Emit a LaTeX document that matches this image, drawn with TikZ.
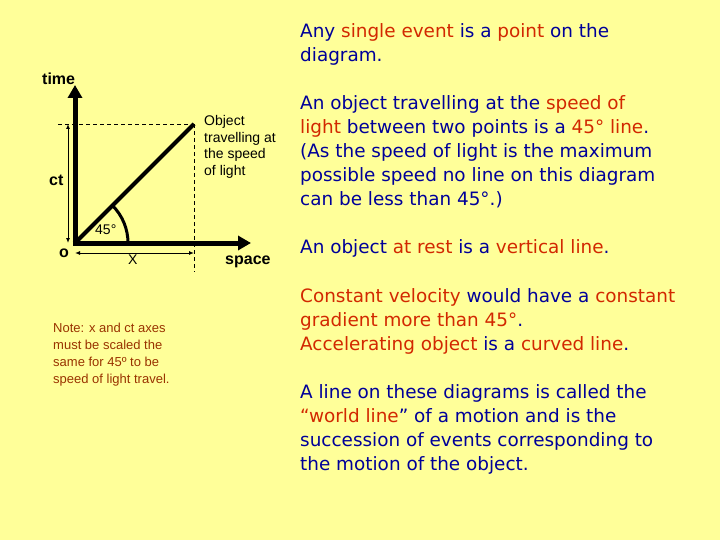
\documentclass[tikz,border=0pt]{standalone}
\usepackage{fontspec}
\setmainfont{Liberation Sans}
\newfontfamily\rfont{DejaVu Sans}
\usetikzlibrary{arrows.meta}
\definecolor{bgyellow}{RGB}{255,255,153}
\definecolor{tblue}{RGB}{0,0,153}
\definecolor{tred}{RGB}{210,40,0}
\definecolor{tnote}{RGB}{153,51,0}
\newcommand{\hl}[1]{\textcolor{tred}{#1}}
\tikzset{
  axis/.style={line width=5pt,-{Triangle[length=13pt,width=14pt]}},
  worldline/.style={line width=4pt},
  guide/.style={line width=0.8pt,dash pattern=on 4pt off 3pt},
  dimline/.style={line width=1pt,{Latex[length=5pt,width=4pt]}-{Latex[length=5pt,width=4pt]}},
  lbl/.style={inner sep=0pt,anchor=base west,font=\fontsize{16}{19}\selectfont\bfseries},
  objtxt/.style={inner sep=0pt,anchor=base west,font=\fontsize{14}{16.5}\selectfont},
  notetxt/.style={inner sep=0pt,anchor=base west,text=tnote,font=\fontsize{13}{16.7}\selectfont},
  rtxt/.style={inner sep=0pt,anchor=base west,text=tblue,font=\rfont\fontsize{18.4}{24}\selectfont}
}
\begin{document}
\begin{tikzpicture}[x=1pt,y=-1pt]
\fill[bgyellow] (0,0) rectangle (720,540);
\useasboundingbox (0,0) rectangle (720,540);
% points
\coordinate (O) at (75,243);
\coordinate (E) at (194,124);
\coordinate (Tt) at (75,85);
\coordinate (St) at (251,243);
\coordinate (Dl) at (58,124);
\coordinate (Db) at (194,272);
\coordinate (C1) at (68,124);
\coordinate (C0) at (68,243);
\coordinate (X0) at (75,253);
\coordinate (X1) at (194,253);
% guides
\draw[guide] (Dl) -- (E);
\draw[guide] (E) -- (Db);
% world line
\draw[worldline] (O) -- (E);
% arc
\draw[line width=3pt] (128,243) arc[start angle=0,end angle=-45,radius=53];
% axes
\draw[axis] (O) -- (Tt);
\draw[axis] ([xshift=-2.5pt]O) -- (St);
% dimension arrows
\draw[dimline] (C1) -- (C0);
\draw[dimline] (X0) -- (X1);
% labels
\node[lbl] (time) at (42,85) {time};
\node[lbl] (ct) at (49,186) {ct};
\node[lbl] (o) at (59,257) {o};
\node[lbl,font=\fontsize{14}{16}\selectfont] (xl) at (128,264) {X};
\node[lbl] (space) at (225,264) {space};
\node[lbl,font=\fontsize{14}{16}\selectfont] (ang) at (95,235) {45°};
\node[objtxt] (ob1) at (204,126) {Object};
\node[objtxt] (ob2) at (204,142.5) {travelling at};
\node[objtxt] (ob3) at (204,159) {the speed};
\node[objtxt] (ob4) at (204,175.5) {of light};
\node[notetxt] (n1) at (53,332) {Note: x and ct axes};
\node[notetxt] (n2) at (53,349) {must be scaled the};
\node[notetxt] (n3) at (53,366) {same for 45º to be};
\node[notetxt] (n4) at (53,383) {speed of light travel.};
% right text
\node[rtxt] (r1) at (300,38) {Any \hl{single event} is a \hl{point} on the};
\node[rtxt] (r2) at (300,62) {diagram.};
\node[rtxt] (r3) at (300,110) {An object travelling at the \hl{speed of}};
\node[rtxt] (r4) at (300,134) {\hl{light} between two points is a \hl{45° line}.};
\node[rtxt] (r5) at (300,158) {(As the speed of light is the maximum};
\node[rtxt] (r6) at (300,182) {possible speed no line on this diagram};
\node[rtxt] (r7) at (300,206) {can be less than 45°.)};
\node[rtxt] (r8) at (300,254) {An object \hl{at rest} is a \hl{vertical line}.};
\node[rtxt] (r9) at (300,302) {\hl{Constant velocity} would have a \hl{constant}};
\node[rtxt] (r10) at (300,326) {\hl{gradient more than 45°}.};
\node[rtxt] (r11) at (300,350) {\hl{Accelerating object} is a \hl{curved line}.};
\node[rtxt] (r12) at (300,398) {A line on these diagrams is called the};
\node[rtxt] (r13) at (300,422) {\hl{“world line}” of a motion and is the};
\node[rtxt] (r14) at (300,446) {succession of events corresponding to};
\node[rtxt] (r15) at (300,470) {the motion of the object.};
\end{tikzpicture}
\end{document}
